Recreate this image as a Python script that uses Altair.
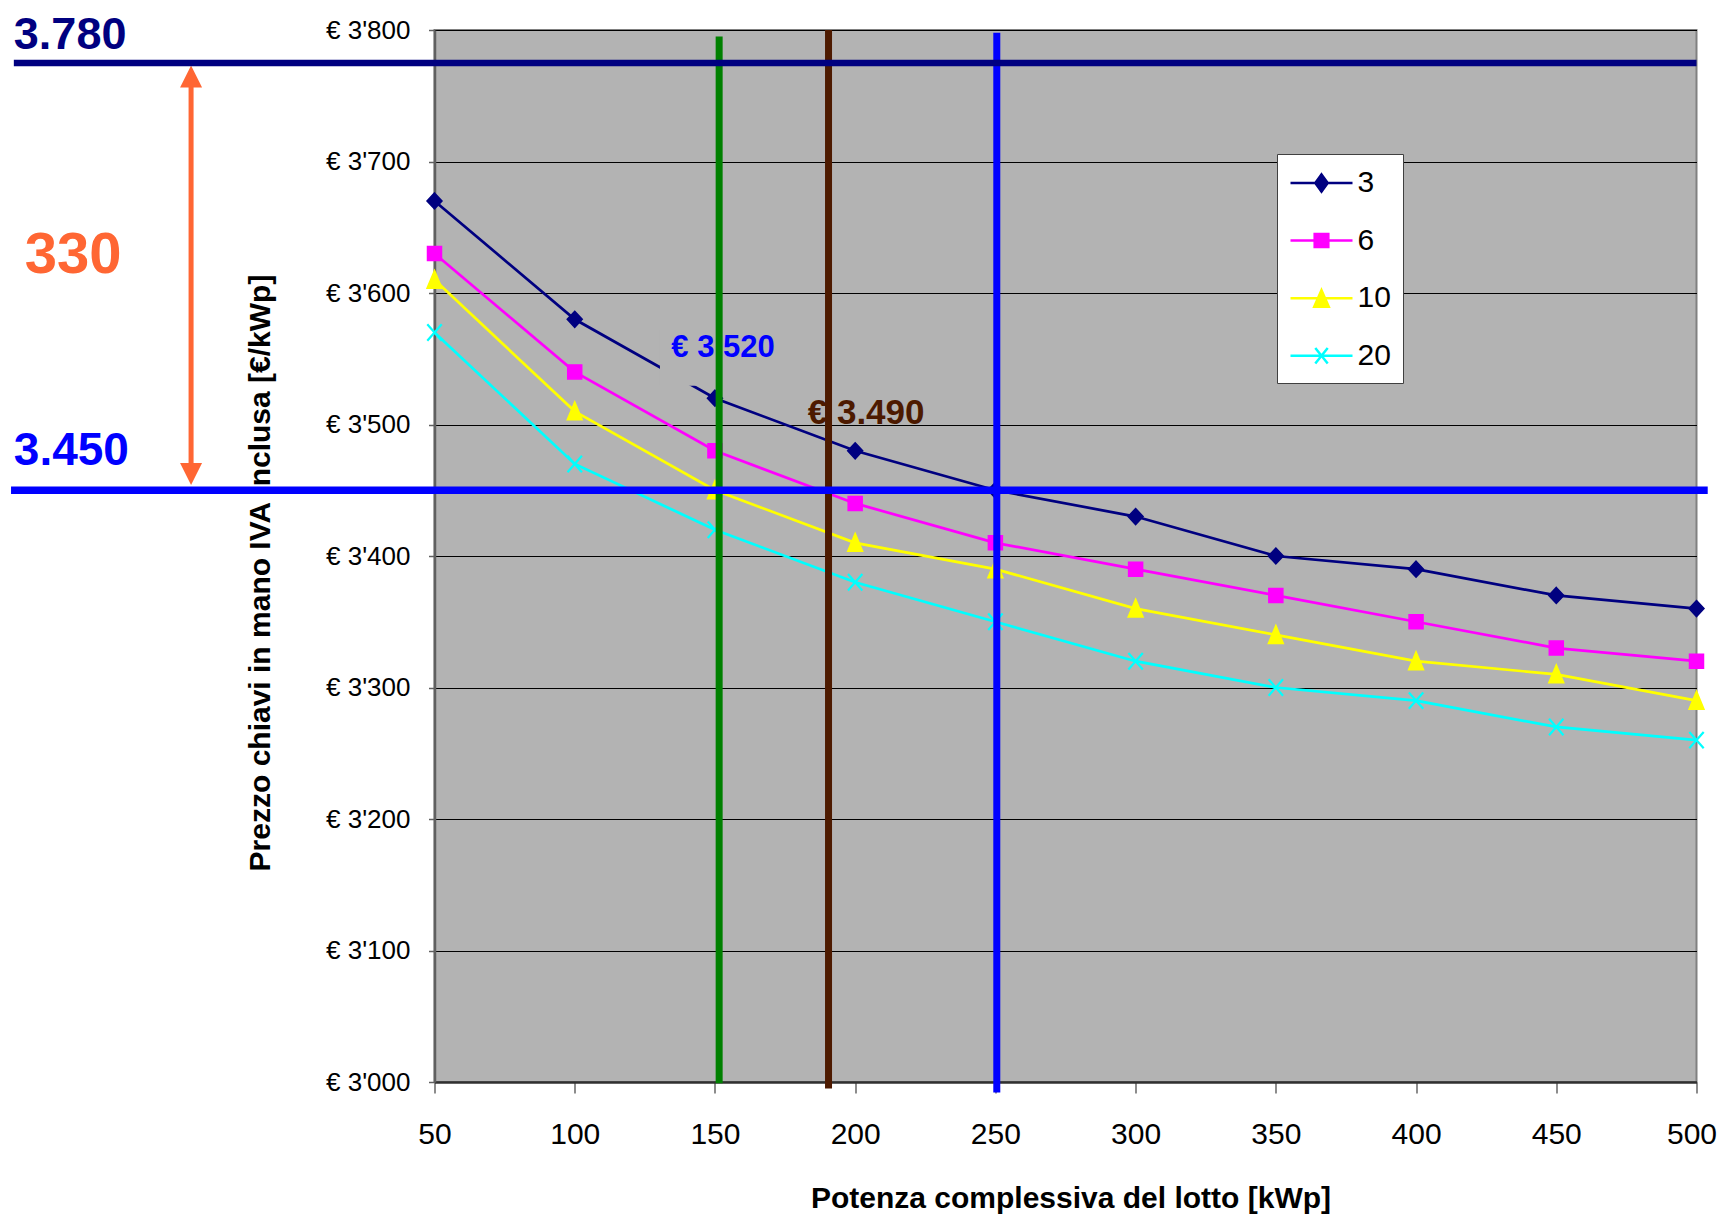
import altair as alt
import pandas as pd

# ---------------- data ----------------
potenza = [50, 100, 150, 200, 250, 300, 350, 400, 450, 500]
serie = ["3", "6", "10", "20"]
prezzo_3 = [3670, 3580, 3520, 3480, 3450, 3430, 3400, 3390, 3370, 3360]
prezzo_6 = [3630, 3540, 3480, 3440, 3410, 3390, 3370, 3350, 3330, 3320]
prezzo_10 = [3610, 3510, 3450, 3410, 3390, 3360, 3340, 3320, 3310, 3290]
prezzo_20 = [3570, 3470, 3420, 3380, 3350, 3320, 3300, 3290, 3270, 3260]
colori_serie = ["#000080", "#FF00FF", "#FFFF00", "#00FFFF"]

y_ticks = [3000, 3100, 3200, 3300, 3400, 3500, 3600, 3700, 3800]
x_ticks = [50, 100, 150, 200, 250, 300, 350, 400, 450, 500]

# annotations
livello_alto = 3775          # drawn line labelled "3.780"
livello_basso = 3450
testo_alto = "3.780"
testo_basso = "3.450"
testo_diff = "330"
x_verde = 151.5
x_marrone = 190.5
x_blu = 250.5
testo_3520 = "€ 3.520"
valore_3520 = 3520
testo_3490 = "€ 3.490"
valore_3490 = 3490
x_freccia = -36.8
freccia_su = 3773
freccia_giu = 3454
# grey text-box behind "€ 3.520" (hides part of the series-3 line)
box_x = [130.4, 171.4]
box_y = [3572, 3529.5]

# ---------------- table ----------------
valori = {"3": prezzo_3, "6": prezzo_6, "10": prezzo_10, "20": prezzo_20}
rows = []
for s in serie:
    for p, v in zip(potenza, valori[s]):
        rows.append({"potenza": p, "prezzo": v, "serie": s})
df = pd.DataFrame(rows)

SX = alt.Scale(domain=[50, 500], nice=False, zero=False)
SY = alt.Scale(domain=[3000, 3800], nice=False, zero=False)
SANS = "Liberation Sans, Arial"
GREY = "#B3B3B3"

x_axis = alt.Axis(
    values=x_ticks, title="Potenza complessiva del lotto [kWp]",
    labelFont=SANS, labelFontSize=30, labelColor="black", labelBaseline="alphabetic",
    labelPadding=50, labelFlush=False, labelOverlap=False,
    labelOffset={"condition": {"test": "datum.value == 500", "value": -5}, "value": 0},
    tickSize=11, tickColor="#404040", tickWidth=1.2,
    domainColor="#303030", domainWidth=2.5, grid=False,
    titleFont=SANS, titleFontSize=30, titleFontWeight="bold", titleColor="black",
    titleX=636, titleY=125, titleBaseline="alphabetic", titleAlign="center",
)
y_axis = alt.Axis(
    values=y_ticks, title="Prezzo chiavi in mano IVA inclusa [€/kWp]",
    labelExpr="'€ ' + replace(format(datum.value, ','), ',', \"'\")",
    labelFont=SANS, labelFontSize=26, labelColor="black", labelPadding=18.5,
    tickSize=6, tickColor="#606060", tickWidth=1.5,
    domainColor="#606060", domainWidth=2.5,
    grid=True, gridColor="black", gridWidth=1,
    titleFont=SANS, titleFontSize=30, titleFontWeight="bold", titleColor="black",
    titleAngle=270, titleX=-165, titleY=542.5, titleBaseline="alphabetic", titleAlign="center",
)


def qx(f):
    return alt.X(f, type="quantitative", scale=SX, axis=x_axis)


def qy(f):
    return alt.Y(f, type="quantitative", scale=SY, axis=y_axis)


base = alt.Chart(df)

# series lines and markers (unit path scaled by sqrt(size)/2)
marker_paths = [
    "M0,-0.8L0.75,0L0,0.8L-0.75,0Z",
    "M-0.7,-0.7L0.7,-0.7L0.7,0.7L-0.7,0.7Z",
    "M0,-0.95L0.75,0.85L-0.75,0.85Z",
    "M-0.72,-0.82L0.72,0.82M-0.72,0.82L0.72,-0.82",
]
marker_stroke = [1.5, 1.5, 1.5, 2.2]
line_layers = []
point_layers = []
for s, c, pth, sw in zip(serie, colori_serie, marker_paths, marker_stroke):
    sub = base.transform_filter(alt.datum.serie == s)
    line_layers.append(
        sub.mark_line(color=c, strokeWidth=2.7).encode(
            x=qx("potenza"), y=qy("prezzo"), order="potenza:Q")
    )
    point_layers.append(
        sub.mark_point(shape=pth, size=400, filled=True, fill=c, stroke=c, strokeWidth=sw, opacity=1)
        .encode(x=qx("potenza"), y=qy("prezzo"))
    )

# legend (symbols = line segment + marker)
legend_paths = [
    "M-1,0L3,0M1,-0.55L1.4,0L1,0.55L0.6,0Z",
    "M-1,0L3,0M0.56,-0.42L1.44,-0.42L1.44,0.42L0.56,0.42Z",
    "M-1,0L3,0M1,-0.52L1.47,0.55L0.53,0.55Z",
    "M-1,0L3,0M0.6,-0.5L1.4,0.5M0.6,0.5L1.4,-0.5",
]
leg = alt.Legend(
    title=None, orient="none", legendX=842.5, legendY=124, direction="vertical",
    symbolSize=961, symbolStrokeWidth=2.5, symbolOpacity=1,
    symbolFillColor="black", symbolStrokeColor="black",
    labelFont=SANS, labelFontSize=30, labelColor="black", labelOffset=34.5,
    rowPadding=25.6, padding=12, fillColor="white", strokeColor="#404040",
)
legend_layer = base.mark_point(filled=True, opacity=0, size=961, strokeWidth=2.5).encode(
    x=qx("potenza"), y=qy("prezzo"),
    fill=alt.Fill("serie:N", scale=alt.Scale(domain=serie, range=colori_serie), legend=leg),
    stroke=alt.Stroke("serie:N", scale=alt.Scale(domain=serie, range=colori_serie), legend=leg),
    shape=alt.Shape("serie:N", scale=alt.Scale(domain=serie, range=legend_paths), legend=leg),
)

text_box = alt.Chart(pd.DataFrame({"x0": [box_x[0]], "x1": [box_x[1]], "y0": [box_y[0]], "y1": [box_y[1]]})).mark_rect(
    color=GREY).encode(x=qx("x0"), x2="x1", y=qy("y0"), y2="y1")


def text_layer(t, x, y, color, size, dx, dy):
    d = pd.DataFrame({"t": [t], "x": [x], "y": [y]})
    return alt.Chart(d).mark_text(
        align="left", baseline="alphabetic", font=SANS, fontWeight="bold",
        fontSize=size, color=color, dx=dx, dy=dy,
    ).encode(x=qx("x"), y=qy("y"), text="t:N")


texts = [
    text_layer(testo_alto, -100, livello_alto, "#000080", 45, 0, -13.5),
    text_layer(testo_basso, -100, livello_basso, "#0000FF", 46, 0, -25),
    text_layer(testo_diff, -100, (3780 + 3450) / 2, "#FF6633", 58, 11, 0),
    text_layer(testo_3520, x_verde, valore_3520, "#0000FF", 31, -47.8, -41),
    text_layer(testo_3490, x_marrone, valore_3490, "#4D1A00", 35, -20.8, -13.7),
]

# orange double arrow
shaft = alt.Chart(pd.DataFrame({"x": [x_freccia], "y0": [freccia_su - 5], "y1": [freccia_giu + 5]})).mark_rule(
    color="#FF6633", strokeWidth=5).encode(x=qx("x"), y=qy("y0"), y2="y1")
head_up = alt.Chart(pd.DataFrame({"x": [x_freccia], "y": [freccia_su]})).mark_point(
    shape="M0,0L1,2L-1,2Z", size=484, filled=True, color="#FF6633", opacity=1).encode(x=qx("x"), y=qy("y"))
head_dn = alt.Chart(pd.DataFrame({"x": [x_freccia], "y": [freccia_giu]})).mark_point(
    shape="M0,0L1,-2L-1,-2Z", size=484, filled=True, color="#FF6633", opacity=1).encode(x=qx("x"), y=qy("y"))


def vrule(x, y0, y1, color, w):
    d = pd.DataFrame({"x": [x], "y0": [y0], "y1": [y1]})
    return alt.Chart(d).mark_rule(color=color, strokeWidth=w).encode(x=qx("x"), y=qy("y0"), y2="y1")


def hrule(y, x0, x1, color, w):
    d = pd.DataFrame({"y": [y], "x0": [x0], "x1": [x1]})
    return alt.Chart(d).mark_rule(color=color, strokeWidth=w).encode(x=qx("x0"), x2="x1", y=qy("y"))


vrules = [
    vrule(x_verde, 3795, 2999, "#008000", 7),
    vrule(x_marrone, 3800, 2995, "#4D1A00", 7),
    vrule(x_blu, 3798, 2992, "#0000FF", 7),
]
hrules = [
    hrule(livello_alto, -100, 500, "#000080", 6.5),
    hrule(livello_basso, -101, 504, "#0000FF", 7.5),
]

chart = alt.layer(
    *line_layers, *point_layers, legend_layer, text_box, *texts, shaft, head_up, head_dn, *vrules, *hrules
).properties(
    width=1262, height=1052,
    autosize=alt.AutoSizeParams(type="none"),
    padding={"left": 426.5, "top": 22, "right": 21.5, "bottom": 133},
    background="white",
).configure_view(
    fill=GREY, stroke="#808080", strokeWidth=2,
)

chart.save("out.html", embed_options={"renderer": "svg", "actions": False})
